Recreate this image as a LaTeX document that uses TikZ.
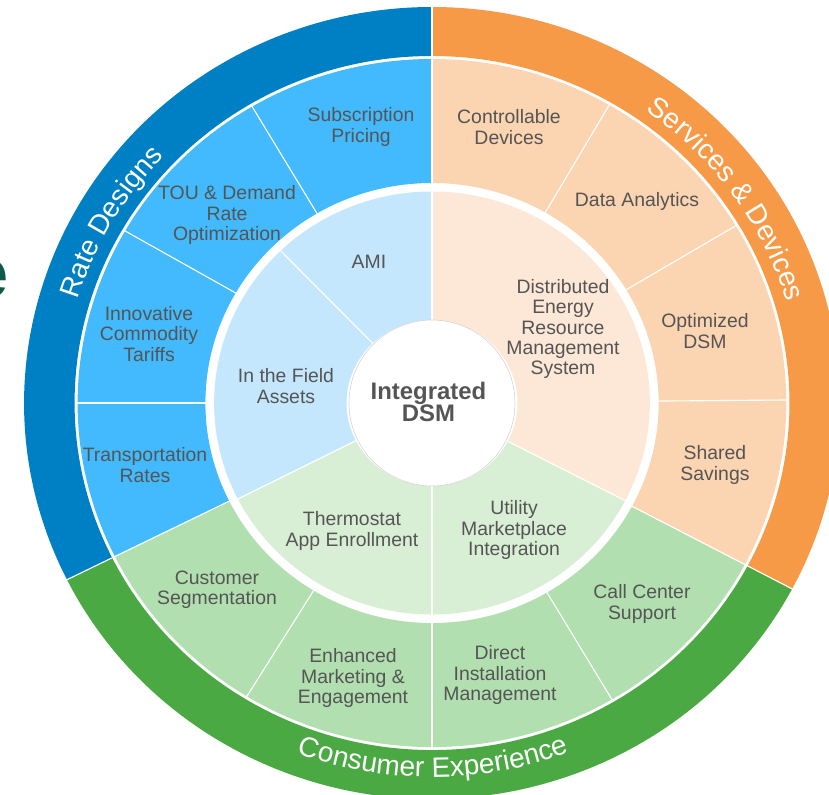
\documentclass[tikz,border=0pt]{standalone}
\usepackage{fontspec}
\setmainfont{Liberation Sans}
\usetikzlibrary{decorations.text}
\definecolor{rateblue}{HTML}{0080C4}
\definecolor{ratemid}{HTML}{42BAFD}
\definecolor{ratelight}{HTML}{C4E7FD}
\definecolor{servorange}{HTML}{F79A48}
\definecolor{servmid}{HTML}{FBD4B1}
\definecolor{servlight}{HTML}{FDE8D8}
\definecolor{consgreen}{HTML}{4AA942}
\definecolor{consmid}{HTML}{B1DFAF}
\definecolor{conslight}{HTML}{D9EFD5}
\definecolor{labelgray}{HTML}{555555}
\definecolor{titleteal}{HTML}{0E5A48}
\newcommand{\bandfont}{\fontsize{20}{20}\selectfont}

\begin{document}
\begin{tikzpicture}[
      x=0.025cm, y=0.025cm,
      item/.style={align=center, text=labelgray, inner sep=0pt,
                   font=\fontsize{13.8}{14.4}\selectfont},
      hub/.style={align=center, text=labelgray, inner sep=0pt,
                  font=\fontsize{17}{16}\selectfont\bfseries},
      cut/.style={white, line width=0.8pt},
      band/.style={decorate, decoration={text along path, text align=center,
                   text color=white, text={|\bandfont|#1}}}
    ]
    \fill[white] (-432,-392) rectangle (397,403);
    \useasboundingbox (-432,-392) rectangle (397,403);
    \clip (-432,-392) rectangle (397,403);

    % heading letter cut by the left edge
    \node[anchor=east, inner sep=0pt, text=titleteal,
          font=\fontsize{50}{50}\selectfont\bfseries] (heading) at (-423,124) {e};

    \begin{scope}[xscale=1.03]
      % outer bands
      \foreach \a/\b/\c in {90/206.5/rateblue, 206.5/332/consgreen, 332/450/servorange}
        \fill[\c] (\a:347) arc[start angle=\a, end angle=\b, radius=347]
          -- (\b:396) arc[start angle=\b, end angle=\a, radius=396] -- cycle;
      \foreach \a in {90, 206.5, 332}
        \draw[cut] (\a:346) -- (\a:397);

      % programme ring
      \foreach \a/\b/\c in {90/206.5/ratemid, 206.5/332/consmid, 332/450/servmid}
        \fill[\c] (\a:220) arc[start angle=\a, end angle=\b, radius=220]
          -- (\b:344) arc[start angle=\b, end angle=\a, radius=344] -- cycle;
      \foreach \a in {90, 120.5, 150, 180, 206.5, 238.5, 270, 300.5, 332, 0.5, 31, 60}
        \draw[cut] (\a:219) -- (\a:345);

      % platform ring
      \foreach \a/\b/\c in {90/207/ratelight, 207/332.5/conslight, 332.5/450/servlight}
        \fill[\c] (\a:83) arc[start angle=\a, end angle=\b, radius=83]
          -- (\b:211.5) arc[start angle=\b, end angle=\a, radius=211.5] -- cycle;
      \foreach \a in {90, 134, 207, 270, 332.5}
        \draw[cut] (\a:82) -- (\a:212);
    \end{scope}

    % hub
    \fill[white] (0,0) circle[radius=83];
    \draw[gray!35, line width=0.4pt] (0,0) circle[radius=83];
    \node[hub] (dsm) at (-3.5,1) {Integrated\\DSM};

    % band titles
    \path[band=Rate Designs] (180:369.8 and 358)
      arc[start angle=180, end angle=120, x radius=369.8, y radius=358];
    \path[band=Services {\&} Devices] (65.4:369.8 and 358)
      arc[start angle=65.4, end angle=5.4, x radius=369.8, y radius=358];
    \path[band=Consumer Experience] (240.2:385.2 and 374)
      arc[start angle=240.2, end angle=300.2, x radius=385.2, y radius=374];

    % rate designs
    \node[item] (subscr) at (-71,276) {Subscription\\Pricing};
    \node[item] (tou) at (-205,188) {TOU \& Demand\\Rate\\Optimization};
    \node[item] (tariffs) at (-283,69) {Innovative\\Commodity\\Tariffs};
    \node[item] (transport) at (-287,-62) {Transportation\\Rates};

    % services and devices
    \node[item] (ctrl) at (77,276) {Controllable\\Devices};
    \node[item] (analytics) at (205,202) {Data Analytics};
    \node[item] (optdsm) at (273,72) {Optimized\\DSM};
    \node[item] (savings) at (283,-62) {Shared\\Savings};

    % consumer experience
    \node[item] (segment) at (-215,-187) {Customer\\Segmentation};
    \node[item] (marketing) at (-79,-275) {Enhanced\\Marketing \&\\Engagement};
    \node[item] (install) at (68,-272) {Direct\\Installation\\Management};
    \node[item] (callctr) at (210,-201) {Call Center\\Support};

    % platform
    \node[item] (ami) at (-63,141) {AMI};
    \node[item] (field) at (-146,17) {In the Field\\Assets};
    \node[item] (derms) at (131,74) {Distributed\\Energy\\Resource\\Management\\System};
    \node[item] (thermo) at (-80,-128) {Thermostat\\App Enrollment};
    \node[item] (utility) at (82,-127) {Utility\\Marketplace\\Integration};
  \end{tikzpicture}
\end{document}
